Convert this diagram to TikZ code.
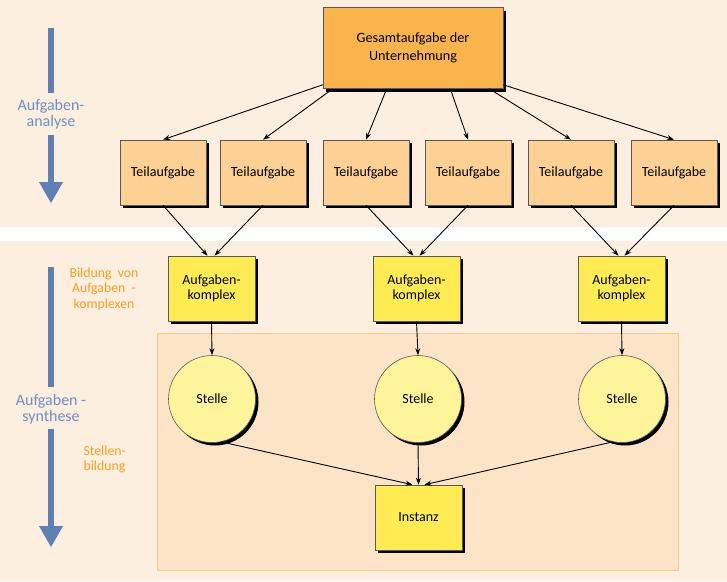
\documentclass[tikz,border=0pt]{standalone}
\usepackage{fontspec}
\setmainfont{Carlito}
\usetikzlibrary{shadows,arrows.meta,calc}
\definecolor{bgpeach}{HTML}{FDEFDF}
\definecolor{innerfill}{HTML}{FDE4C6}
\definecolor{innerborder}{HTML}{F8C98C}
\definecolor{gesamt}{HTML}{F9B44C}
\definecolor{teil}{HTML}{FCD193}
\definecolor{komplex}{HTML}{FFEC52}
\definecolor{stelle}{HTML}{FFF49A}
\definecolor{bluearr}{HTML}{5F80B5}
\definecolor{bluetext}{HTML}{6E8FC2}
\definecolor{orangetext}{HTML}{F7A020}
\tikzset{
  shad/.style={drop shadow={shadow xshift=3pt,shadow yshift=-3pt,fill=black,opacity=1}},
  boxbase/.style={draw=black!65,line width=0.6pt,inner sep=0pt,align=center,shad,
    font=\fontsize{14}{15.5}\selectfont},
  gesamtbox/.style={boxbase,fill=gesamt,minimum width=180pt,minimum height=81pt,
    font=\fontsize{14.2}{18}\selectfont},
  teilbox/.style={boxbase,fill=teil,minimum width=86pt,minimum height=65pt},
  kompbox/.style={boxbase,fill=komplex,minimum width=87pt,minimum height=65pt},
  stellecirc/.style={boxbase,circle,fill=stelle,minimum size=87pt},
  conn/.style={-{Stealth[length=7pt,width=5pt]},line width=0.9pt,black},
  bluelabel/.style={text=bluetext,align=center,font=\fontsize{16}{15.5}\selectfont},
  orangelabel/.style={text=orangetext,font=\fontsize{13.8}{15.5}\selectfont},
  bluebar/.style={draw=bluearr,line width=6pt},
}
\begin{document}
\begin{tikzpicture}[x=1pt,y=-1pt]
\useasboundingbox (0,0) rectangle (727,581);
\fill[white] (0,0) rectangle (727,581);
\fill[bgpeach] (0,0) rectangle (727,227);
\fill[bgpeach] (0,241) rectangle (727,581);
\filldraw[fill=innerfill,draw=innerborder,line width=1pt] (157,333) rectangle (678,570);

% left side labels and arrows
\node[bluelabel] (ana) at (51,114) {Aufgaben-\\analyse};
\coordinate (a1) at (51,28);
\coordinate (a2) at (51,93);
\coordinate (a3) at (51,135);
\coordinate (a4) at (51,183);
\draw[bluebar] (a1) -- (a2);
\draw[bluebar] (a3) -- (a4);
\fill[bluearr] (39,182) -- (63,182) -- (51,203) -- cycle;

\node[bluelabel] (syn) at (51,409) {Aufgaben -\\synthese};
\coordinate (b1) at (51,267);
\coordinate (b2) at (51,387);
\coordinate (b3) at (51,429);
\coordinate (b4) at (51,527);
\draw[bluebar] (b1) -- (b2);
\draw[bluebar] (b3) -- (b4);
\fill[bluearr] (39,526) -- (63,526) -- (51,547) -- cycle;

\node[orangelabel,align=center] (bild) at (104,289) {Bildung\ \ von\\Aufgaben\ \ -\\komplexen};
\node[orangelabel,align=left,anchor=west] (stb) at (80,459.5) {Stellen-\\bildung};

% nodes
\node[gesamtbox] (G) at (413,48) {Gesamtaufgabe der\\Unternehmung};
\node[teilbox] (T1) at (163,172.5) {Teilaufgabe};
\node[teilbox] (T2) at (263,172.5) {Teilaufgabe};
\node[teilbox] (T3) at (366,172.5) {Teilaufgabe};
\node[teilbox] (T4) at (468,172.5) {Teilaufgabe};
\node[teilbox] (T5) at (571,172.5) {Teilaufgabe};
\node[teilbox] (T6) at (674,172.5) {Teilaufgabe};

\node[kompbox] (K1) at (211.5,288.5) {Aufgaben-\\komplex};
\node[kompbox] (K2) at (416.5,288.5) {Aufgaben-\\komplex};
\node[kompbox] (K3) at (621.5,288.5) {Aufgaben-\\komplex};

\node[stellecirc] (S1) at (212,399) {Stelle};
\node[stellecirc] (S2) at (418,399) {Stelle};
\node[stellecirc] (S3) at (622,399) {Stelle};

\node[kompbox] (I) at (418.5,517.5) {Instanz};

% connectors
\draw[conn] ([yshift=4pt]G.south west) -- (T1.north);
\draw[conn] ([xshift=10pt]G.south west) -- (T2.north);
\draw[conn] ([xshift=64pt]G.south west) -- (T3.north);
\draw[conn] ([xshift=-53pt]G.south east) -- (T4.north);
\draw[conn] ([xshift=-14pt]G.south east) -- (T5.north);
\draw[conn] ([yshift=4pt]G.south east) -- (T6.north);

\draw[conn] (T1.south) -- ([xshift=-4pt]K1.north);
\draw[conn] (T2.south) -- ([xshift=3pt]K1.north);
\draw[conn] (T3.south) -- ([xshift=-3pt]K2.north);
\draw[conn] (T4.south) -- ([xshift=3pt]K2.north);
\draw[conn] (T5.south) -- ([xshift=-3pt]K3.north);
\draw[conn] (T6.south) -- ([xshift=3pt]K3.north);

\draw[conn] (K1.south) -- (S1.north);
\draw[conn] (K2.south) -- (S2.north);
\draw[conn] (K3.south) -- (S3.north);

\draw[conn] (S1.-78) -- ([xshift=-6pt]I.north);
\draw[conn] (S2.south) -- (I.north);
\draw[conn] (S3.-102) -- ([xshift=6pt]I.north);
\end{tikzpicture}
\end{document}
